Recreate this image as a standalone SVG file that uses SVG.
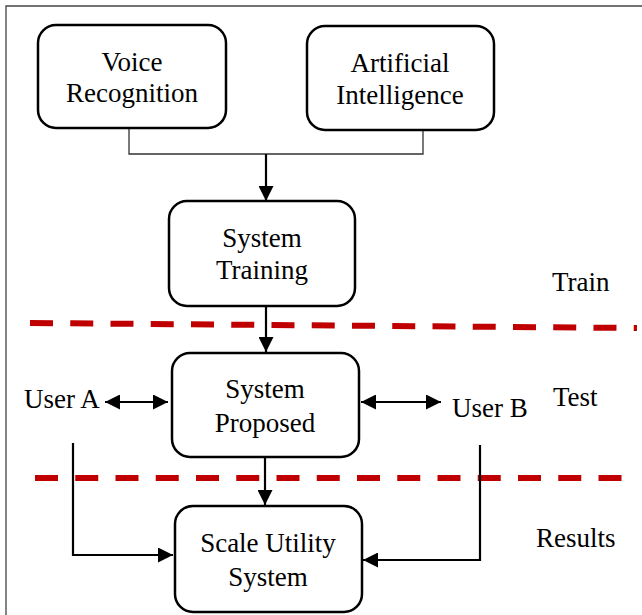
<svg xmlns="http://www.w3.org/2000/svg" width="642" height="615" viewBox="0 0 642 615">
  <style>
    .box { fill: #ffffff; stroke: #000000; stroke-width: 2.5; }
    .lbl { font-family: "Liberation Serif", "Times New Roman", serif; font-size: 27px; fill: #000000; }
    .mid { text-anchor: middle; }
    .thin { fill: none; stroke: #333333; stroke-width: 1.3; }
    .arrow { fill: none; stroke: #000000; stroke-width: 2.2; }
    .divider { fill: none; stroke: #c00000; stroke-width: 6; stroke-dasharray: 23 17.25; }
    .frame { fill: none; stroke: #444444; stroke-width: 1.3; }
  </style>
  <defs>
    <marker id="head" markerUnits="userSpaceOnUse" markerWidth="15" markerHeight="15" refX="15" refY="7.5" orient="auto-start-reverse">
      <path d="M0,0 L15,7.5 L0,15 Z" fill="#000000"/>
    </marker>
  </defs>

  <rect width="642" height="615" fill="#ffffff"/>
  <path class="frame" d="M6,615 V6 H642"/>

  <!-- phase dividers -->
  <g id="dividers">
    <line class="divider" x1="30" y1="323" x2="637" y2="328"/>
    <line class="divider" x1="35" y1="478" x2="623" y2="478"/>
  </g>

  <g id="connectors">
    <path class="thin" d="M129,128 V154 H423 V130"/>
    <line class="arrow" x1="266" y1="154" x2="266" y2="201" marker-end="url(#head)"/>
    <line class="arrow" x1="266" y1="306" x2="266" y2="352" marker-end="url(#head)"/>
    <line class="arrow" x1="265" y1="457" x2="265" y2="505" marker-end="url(#head)"/>
    <line class="arrow" x1="105" y1="402" x2="168" y2="402" marker-start="url(#head)" marker-end="url(#head)"/>
    <line class="arrow" x1="361" y1="402" x2="441" y2="402" marker-start="url(#head)" marker-end="url(#head)"/>
    <path class="arrow" d="M73,443 V555 H173" marker-end="url(#head)"/>
    <path class="arrow" d="M480,445 V560 H363" marker-end="url(#head)"/>
  </g>

  <g id="voice-recognition">
    <rect class="box" x="38" y="25" width="188" height="103" rx="18"/>
    <text class="lbl mid" x="132" y="71">Voice</text>
    <text class="lbl mid" x="132" y="102">Recognition</text>
  </g>

  <g id="artificial-intelligence">
    <rect class="box" x="307" y="26" width="187" height="104" rx="18"/>
    <text class="lbl mid" x="400" y="72">Artificial</text>
    <text class="lbl mid" x="400" y="104">Intelligence</text>
  </g>

  <g id="system-training">
    <rect class="box" x="169" y="201" width="186" height="105" rx="18"/>
    <text class="lbl mid" x="262" y="247">System</text>
    <text class="lbl mid" x="262" y="279">Training</text>
  </g>

  <g id="system-proposed">
    <rect class="box" x="172" y="353" width="187" height="104" rx="18"/>
    <text class="lbl mid" x="265" y="398">System</text>
    <text class="lbl mid" x="265" y="432">Proposed</text>
  </g>

  <g id="scale-utility-system">
    <rect class="box" x="175" y="506" width="187" height="106" rx="18"/>
    <text class="lbl mid" x="268" y="552">Scale Utility</text>
    <text class="lbl mid" x="268" y="586">System</text>
  </g>

  <g id="user-a">
    <text class="lbl" x="24" y="408">User A</text>
  </g>
  <g id="user-b">
    <text class="lbl" x="452" y="417">User B</text>
  </g>

  <g id="phase-labels">
    <text class="lbl" x="552" y="291">Train</text>
    <text class="lbl" x="553" y="406">Test</text>
    <text class="lbl" x="536" y="547">Results</text>
  </g>
</svg>
